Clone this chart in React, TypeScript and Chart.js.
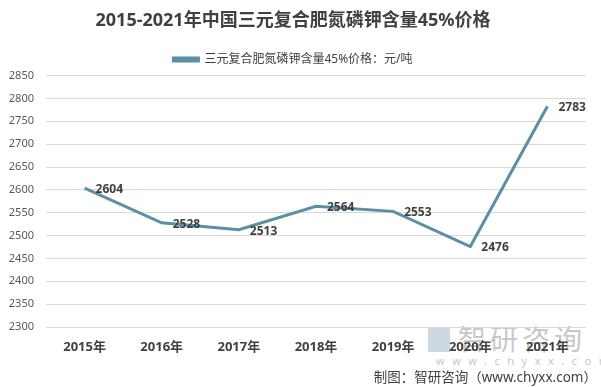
import React, { useEffect, useRef } from "react";
import { Chart, registerables } from "chart.js";

Chart.register(...registerables);

const title = "2015-2021年中国三元复合肥氮磷钾含量45%价格";
const seriesName = "三元复合肥氮磷钾含量45%价格：元/吨";
const categories = ["2015年", "2016年", "2017年", "2018年", "2019年", "2020年", "2021年"];
const prices = [2604, 2528, 2513, 2564, 2553, 2476, 2783];
const yMin = 2300;
const yMax = 2850;
const yStep = 50;
const sourceText = "制图：智研咨询（www.chyxx.com）";

const LINE_COLOR = "#5b8fa6";
const FONT = '"Noto Sans", "Noto Sans CJK SC", sans-serif';

const labelPlugin = {
  id: "valueLabels",
  afterDatasetsDraw(chart: any) {
    const ctx = chart.ctx;
    const meta = chart.getDatasetMeta(0);
    ctx.save();
    ctx.font = `bold 12px ${FONT}`;
    ctx.fillStyle = "#404040";
    ctx.textAlign = "left";
    ctx.textBaseline = "middle";
    meta.data.forEach((pt: any, i: number) => {
      ctx.fillText(String(prices[i]), pt.x + 11, pt.y + 1.5);
    });
    ctx.restore();
  },
};

export default function App() {
  const ref = useRef<HTMLCanvasElement>(null);
  useEffect(() => {
    document.body.style.margin = "0";
    const chart = new Chart(ref.current!, {
      type: "line",
      data: {
        labels: categories,
        datasets: [
          {
            label: seriesName,
            data: prices,
            borderColor: LINE_COLOR,
            backgroundColor: LINE_COLOR,
            borderWidth: 3,
            pointRadius: 0,
            tension: 0,
          },
        ],
      },
      options: {
        animation: false,
        responsive: false,
        layout: { padding: { top: 0, right: 15, left: 0, bottom: 0 } },
        plugins: {
          title: {
            display: true,
            text: title,
            color: "#404040",
            font: { family: FONT, size: 18, weight: "bold" },
            padding: { top: 10, bottom: 4 },
          },
          legend: {
            display: true,
            labels: {
              color: "#404040",
              font: { family: FONT, size: 12 },
              boxWidth: 25,
              boxHeight: 3,
              padding: 18,
            },
          },
          tooltip: { enabled: false },
        },
        scales: {
          x: {
            offset: true,
            grid: { display: false, drawTicks: false },
            border: { display: false },
            ticks: {
              color: "#404040",
              font: { family: FONT, size: 13, weight: "bold" },
              padding: 12,
            },
            afterFit(scale: any) {
              scale.height = 60;
            },
          },
          y: {
            min: yMin,
            max: yMax,
            grid: { color: "#d9d9d9", drawTicks: false, lineWidth: 1 },
            border: { display: false },
            ticks: {
              stepSize: yStep,
              color: "#595959",
              font: { family: FONT, size: 11 },
              padding: 12,
              callback: (v: any) => String(v),
            },
            afterFit(scale: any) {
              scale.width = 46;
            },
          },
        },
      },
      plugins: [labelPlugin],
    });
    return () => chart.destroy();
  }, []);

  return (
    <div style={{ position: "relative", width: 601, height: 387, background: "#fff", overflow: "hidden" }}>
      <div style={{ position: "absolute", left: 428, top: 322, width: 160, height: 50, color: "#c8c8c8", fontFamily: FONT }}>
        <div style={{ position: "absolute", left: 0, top: 6, width: 22, height: 24, background: "#b8c7d6", opacity: 0.7 }} />
        <div style={{ position: "absolute", left: 30, top: 0, fontSize: 28, letterSpacing: 4, lineHeight: "34px" }}>智研咨询</div>
        <div style={{ position: "absolute", left: 8, top: 33, fontSize: 11, letterSpacing: 7.5, lineHeight: "12px" }}>www.chyxx.com</div>
      </div>
      <canvas ref={ref} width={601} height={387} style={{ position: "absolute", left: 0, top: 0 }} />
      <div style={{ position: "absolute", right: 4, top: 366, fontSize: 13.5, color: "#404040", fontFamily: FONT, whiteSpace: "nowrap" }}>
        {sourceText}
      </div>
    </div>
  );
}
